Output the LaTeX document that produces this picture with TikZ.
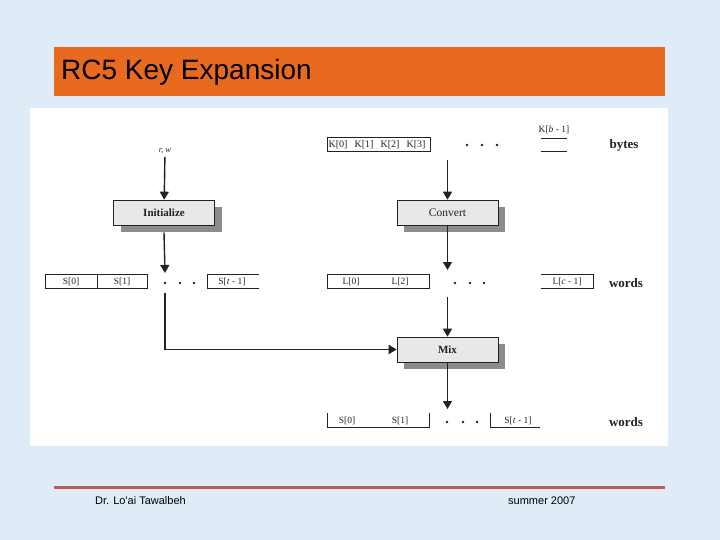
\documentclass[tikz,border=0pt]{standalone}
\usepackage{fontspec}
\setmainfont{Liberation Serif}
\newfontfamily\sansf{Liberation Sans}
\usetikzlibrary{arrows.meta,shadows}
\definecolor{bg}{HTML}{DFEBF7}
\definecolor{titleor}{HTML}{E86A1F}
\definecolor{footred}{HTML}{BF5A5A}
\definecolor{boxfill}{HTML}{E8E8E8}
\definecolor{shadowgray}{HTML}{8C8C8C}
\definecolor{inkc}{HTML}{222222}
\begin{document}
\begin{tikzpicture}[x=1pt,y=-1pt,
  procbox/.style={draw=inkc, line width=0.6pt, fill=boxfill, minimum width=101pt,
    minimum height=25pt, inner sep=0pt,
    general shadow={fill=shadowgray, shadow xshift=7pt, shadow yshift=-7pt}},
  cell/.style={inner sep=0pt, text=inkc, font=\fontsize{9.5}{10}\selectfont},
  unitlbl/.style={inner sep=0pt, text=inkc, font=\bfseries\fontsize{13}{14}\selectfont},
  rowline/.style={draw=inkc, line width=0.7pt},
  dotn/.style={circle, fill=inkc, inner sep=0pt, minimum size=2.8pt},
  arr/.style={draw=inkc, line width=1.4pt, -{Triangle[width=9pt,length=8pt]}},
  thickarr/.style={draw=inkc, line width=1.8pt, -{Triangle[width=9pt,length=8pt]}},
  footer/.style={anchor=west, inner sep=0pt, font=\sansf\fontsize{11}{12}\selectfont}
]
\useasboundingbox (0,0) rectangle (720,540);
\fill[bg] (0,0) rectangle (720,540);
% title bar
\fill[titleor] (54,47) rectangle (665,96);
\node[anchor=west, inner sep=0pt, font=\sansf\fontsize{28}{31}\selectfont, text=black] (title) at (61,72) {RC5 Key Expansion};
% white panel
\fill[white] (30,108) rectangle (668,446);
% footer
\draw[footred, line width=3pt] (54,487) -- (665,487);
\node[footer] (author) at (95,501) {Dr. Lo'ai Tawalbeh};
\node[footer] (date) at (508,501) {summer 2007};

% ---------- left column ----------
\node[inner sep=1pt, text=inkc, font=\itshape\fontsize{8.5}{9}\selectfont] (rw) at (165,151) {r, w};
\node[procbox, font=\bfseries\fontsize{11}{12}\selectfont, text=inkc] (init) at (164,212.5) {Initialize};
\draw[arr, shorten <=2pt] (rw) -- (init);

% S row
\draw[rowline] (45,274) rectangle (147,288);
\draw[rowline] (97,274) -- (97,288);
\node[cell] (s0) at (71,281.5) {S[0]};
\node[cell] (s1) at (122,281.5) {S[1]};
\node[dotn] (sd1) at (165,283) {};
\node[dotn] (sd2) at (180,283) {};
\node[dotn] (sd3) at (194,283) {};
\draw[rowline] (259,274) -- (207,274) -- (207,288) -- (259,288);
\node[cell] (st) at (232,281.5) {S[\textit{t} - 1]};
\coordinate (sin) at (165,273);
\draw[arr] ([yshift=-7pt]init.south) -- (sin);

% ---------- right column ----------
% bytes row
\draw[rowline] (327,137) rectangle (430,151);
\node[cell, font=\fontsize{10}{11}\selectfont] (k0) at (338,144.5) {K[0]};
\node[cell, font=\fontsize{10}{11}\selectfont] (k1) at (364,144.5) {K[1]};
\node[cell, font=\fontsize{10}{11}\selectfont] (k2) at (390,144.5) {K[2]};
\node[cell, font=\fontsize{10}{11}\selectfont] (k3) at (416,144.5) {K[3]};
\node[dotn] (kd1) at (467,145) {};
\node[dotn] (kd2) at (482,145) {};
\node[dotn] (kd3) at (497,145) {};
\node[cell, font=\fontsize{9.5}{10}\selectfont] (kb) at (554,130) {K[\textit{b} - 1]};
\draw[rowline] (541,138) -- (567,138);
\draw[rowline] (541,151) -- (567,151);
\node[unitlbl] (bytes) at (624,145) {bytes};

\node[procbox, font=\fontsize{11.5}{12}\selectfont, text=inkc] (conv) at (447.5,212.5) {Convert};
\coordinate (kin) at (447.5,160);
\draw[arr] (kin) -- (conv);

% L row
\draw[rowline] (327,274) rectangle (429,288);
\node[cell] (l0) at (351,281.5) {L[0]};
\node[cell] (l1) at (400,281.5) {L[2]};
\node[dotn] (ld1) at (455,283) {};
\node[dotn] (ld2) at (470,283) {};
\node[dotn] (ld3) at (484,283) {};
\draw[rowline] (541,274) -- (593,274) -- (593,288) -- (541,288);
\node[cell] (lc) at (567,281.5) {L[\textit{c} - 1]};
\node[unitlbl] (words1) at (626,283) {words};
\coordinate (lin) at (447.5,270);
\draw[arr] (conv.south) -- (lin);

% Mix
\node[procbox, font=\bfseries\fontsize{11}{12}\selectfont, text=inkc] (mix) at (447.5,349.5) {Mix};
\coordinate (lout) at (447.5,297);
\draw[arr] (lout) -- (mix);
\coordinate (sout) at (165,293);
\draw[thickarr] (sout) |- (mix.west);

% output S row
\draw[rowline] (327,413) -- (327,427) -- (429,427) -- (429,413);
\node[cell] (o0) at (347,420.5) {S[0]};
\node[cell] (o1) at (400,420.5) {S[1]};
\node[dotn] (od1) at (447,422) {};
\node[dotn] (od2) at (463,422) {};
\node[dotn] (od3) at (477,422) {};
\draw[rowline] (490,413) -- (490,427) -- (540,427);
\node[cell] (ot) at (518,420.5) {S[\textit{t} - 1]};
\node[unitlbl] (words2) at (626,422) {words};
\coordinate (oin) at (447.5,409);
\draw[arr] (mix.south) -- (oin);
\end{tikzpicture}
\end{document}
